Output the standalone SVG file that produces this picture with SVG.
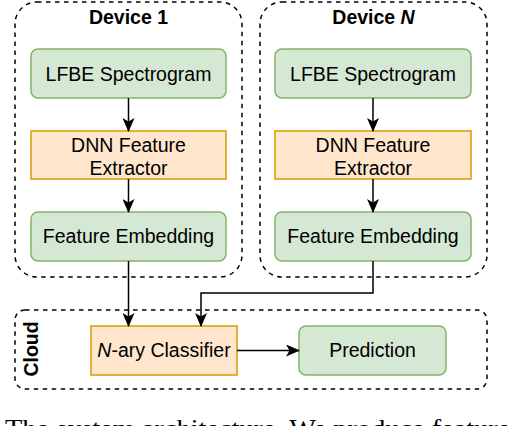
<svg xmlns="http://www.w3.org/2000/svg" width="518" height="426" viewBox="0 0 518 426">
<style>
.container{fill:none;stroke:#000;stroke-width:1.5;stroke-dasharray:4.5,4.5}
.green{fill:#d5e8d4;stroke:#82b366;stroke-width:1.5}
.orange{fill:#ffe6cc;stroke:#d79b00;stroke-width:1.5}
.lbl{font-family:"Liberation Sans",Arial,sans-serif;font-size:19.5px;fill:#000;text-anchor:middle}
.title{font-family:"Liberation Sans",Arial,sans-serif;font-size:19.5px;font-weight:bold;fill:#000;text-anchor:middle}
.edge{fill:none;stroke:#000;stroke-width:1.5;marker-end:url(#arr)}
.cap{font-family:"Liberation Serif","Times New Roman",serif;font-size:25px;fill:#000}
</style>
<defs>
<marker id="arr" viewBox="0 0 14 12" refX="13" refY="6" markerWidth="14" markerHeight="12" markerUnits="userSpaceOnUse" orient="auto">
<path d="M0,0 L14,6 L0,12 L3.5,6 Z" fill="#000"/>
</marker>
</defs>
<g id="device1">
<rect class="container" x="15" y="2" width="227" height="275" rx="22"/>
<text class="title" x="128.5" y="24">Device 1</text>
</g>
<g id="deviceN">
<rect class="container" x="260" y="2" width="227" height="275" rx="22"/>
<text class="title" x="373.5" y="24">Device <tspan font-style="italic">N</tspan></text>
</g>
<g id="cloud">
<rect class="container" x="15" y="310" width="472" height="79" rx="10"/>
<text class="title" transform="translate(38,349) rotate(-90)">Cloud</text>
</g>
<g id="lfbe1">
<rect class="green" x="31" y="49" width="195" height="49" rx="7"/>
<text class="lbl" x="128.5" y="81">LFBE Spectrogram</text>
</g>
<g id="dnn1">
<rect class="orange" x="31" y="131" width="195" height="48"/>
<text class="lbl" x="128.5" y="152">DNN Feature</text>
<text class="lbl" x="128.5" y="175">Extractor</text>
</g>
<g id="emb1">
<rect class="green" x="31" y="212" width="195" height="49" rx="7"/>
<text class="lbl" x="128.5" y="243">Feature Embedding</text>
</g>
<g id="lfbeN">
<rect class="green" x="275" y="49" width="196" height="49" rx="7"/>
<text class="lbl" x="373" y="81">LFBE Spectrogram</text>
</g>
<g id="dnnN">
<rect class="orange" x="275" y="131" width="196" height="48"/>
<text class="lbl" x="373" y="152">DNN Feature</text>
<text class="lbl" x="373" y="175">Extractor</text>
</g>
<g id="embN">
<rect class="green" x="275" y="212" width="196" height="49" rx="7"/>
<text class="lbl" x="373" y="243">Feature Embedding</text>
</g>
<g id="classifier">
<rect class="orange" x="91" y="326" width="146" height="49"/>
<text class="lbl" x="164" y="357"><tspan font-style="italic">N</tspan>-ary Classifier</text>
</g>
<g id="prediction">
<rect class="green" x="299" y="326" width="147" height="49" rx="7"/>
<text class="lbl" x="372.5" y="357">Prediction</text>
</g>
<g id="connectors">
<path class="edge" d="M128.5,98 L128.5,131"/>
<path class="edge" d="M128.5,179 L128.5,212"/>
<path class="edge" d="M373,98 L373,131"/>
<path class="edge" d="M373,179 L373,212"/>
<path class="edge" d="M128.5,261 L128.5,326"/>
<path class="edge" d="M373,261 L373,293 L201,293 L201,326"/>
<path class="edge" d="M237,350.5 L299,350.5"/>
</g>
<text class="cap" x="5" y="437" textLength="525" lengthAdjust="spacingAndGlyphs">The system architecture. We produce feature e</text>
</svg>
